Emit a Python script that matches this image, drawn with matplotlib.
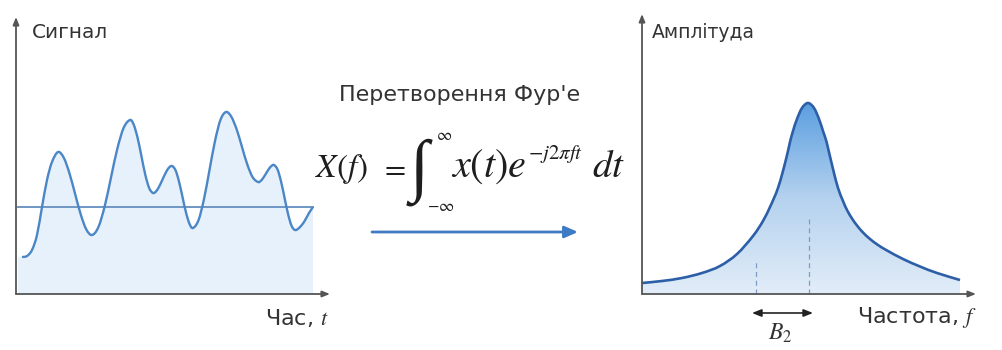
import numpy as np
import matplotlib
matplotlib.use("Agg")
import matplotlib.pyplot as plt
from matplotlib.colors import LinearSegmentedColormap
from matplotlib.path import Path
from matplotlib.patches import PathPatch

plt.rcParams['font.family'] = ['DejaVu Sans']
plt.rcParams['mathtext.fontset'] = 'stix'

# ---------------- data ----------------
# time-domain signal (arbitrary units)
signal_t = [6, 11, 16, 21, 26, 31, 36, 42,
            47.7, 53.3, 59, 64.7, 70.3, 76,
            82.3, 88.7, 95, 101.3, 107.7, 114,
            117.8, 121.7, 125.5, 129.3, 133.2, 137,
            140.2, 143.3, 146.5, 149.7, 152.8, 156,
            159.5, 163, 166.5, 170, 173.5, 177,
            182.5, 188, 193.5, 199, 204.5, 210,
            215.3, 220.7, 226, 231.3, 236.7, 242,
            244.7, 247.3, 250, 252.7, 255.3, 258,
            261.5, 265, 268.5, 272, 275.5, 279,
            283, 288, 293, 297]
signal_v = [37, 38, 44, 59, 87, 114, 132, 142,
            136.4, 121.2, 100.5, 79.7, 64.6, 59,
            66.7, 87.7, 116.5, 145.2, 166.3, 174,
            169.1, 155.7, 137.5, 119.2, 105.9, 101,
            102.8, 107.7, 114.5, 121.2, 126.2, 128,
            123.8, 112.5, 97, 81.5, 70.2, 66,
            73.8, 95, 124, 153, 174.2, 182,
            177.3, 164.5, 147, 129.5, 116.7, 112,
            113.1, 116.2, 120.5, 124.8, 127.9, 129,
            124.6, 112.7, 96.5, 80.2, 68.4, 64,
            66, 72, 81, 87]
signal_mean = 87
signal_span = [2, 297]

# spectrum (arbitrary units)
spec_f = [0, 20, 40, 60, 78, 95, 111, 121, 128, 132, 136, 141, 146, 148, 151,
          155, 160, 166, 172, 177, 181, 184, 186, 191, 196, 201, 205,
          210, 215, 221, 228, 236, 245, 261, 278, 295, 318]
spec_a = [11, 13, 16, 21, 28, 40, 58, 73, 87, 96, 106, 123, 143, 152, 163,
          175, 186, 191, 186, 175, 163, 154, 146, 125, 106, 93, 84,
          75.5, 68.5, 61.5, 55, 49, 43.5, 35, 27.5, 21, 14]
band_f = [114, 167]         # bandwidth B2 edges
band_marker_top = [34, 77]  # heights of dashed markers

W, H = 1003, 350
fig = plt.figure(figsize=(W / 100, H / 100), dpi=100)


def smooth_path(xs, ys, close_to=None):
    """Catmull-Rom curve through the given points, rendered as cubic Bezier path."""
    P = np.column_stack([xs, ys]).astype(float)
    n = len(P)
    verts = [P[0]]
    codes = [Path.MOVETO]
    for i in range(n - 1):
        p0 = P[i - 1] if i > 0 else P[i]
        p1, p2 = P[i], P[i + 1]
        p3 = P[i + 2] if i + 2 < n else P[i + 1]
        verts += [p1 + (p2 - p0) / 6, p2 - (p3 - p1) / 6, p2]
        codes += [Path.CURVE4] * 3
    if close_to is not None:
        verts += [[P[-1, 0], close_to], [P[0, 0], close_to], P[0]]
        codes += [Path.LINETO, Path.LINETO, Path.CLOSEPOLY]
    return Path(np.array(verts), codes)


def px_axes(x0, x1, ytop, ybot):
    return fig.add_axes([x0 / W, 1 - ybot / H, (x1 - x0) / W, (ybot - ytop) / H])


axis_col = '#555555'
text_col = '#333333'
arrow_kw = dict(arrowstyle='-|>,head_length=0.45,head_width=0.18', color=axis_col, lw=1.3,
                shrinkA=0, shrinkB=0)

# ---------------- left panel ----------------
axL = px_axes(16, 330, 17, 294)
axL.set_xlim(0, 314)
axL.set_ylim(0, 277)
axL.axis('off')
axL.add_patch(PathPatch(smooth_path(signal_t, signal_v, close_to=0), facecolor='#e7f1fb',
                        edgecolor='none', zorder=1))
axL.fill_between([signal_span[0], signal_t[0]], [signal_v[0]] * 2, 0, color='#e7f1fb', lw=0)
axL.plot(signal_span, [signal_mean] * 2, color='#6f97c4', lw=1.4, zorder=2)
axL.add_patch(PathPatch(smooth_path(signal_t, signal_v), facecolor='none',
                        edgecolor='#4b86c6', lw=1.7, zorder=3))
axL.annotate('', xy=(0, 1), xytext=(0, 0), xycoords='axes fraction', arrowprops=arrow_kw)
axL.annotate('', xy=(1, 0), xytext=(0, 0), xycoords='axes fraction', arrowprops=arrow_kw)

# ---------------- right panel ----------------
axR = px_axes(642, 976, 14, 294)
axR.set_xlim(0, 334)
axR.set_ylim(0, 280)
axR.axis('off')
fill_path = smooth_path(spec_f, spec_a, close_to=0)
cmap = LinearSegmentedColormap.from_list('g', ['#e2edf8', '#b5d2ef', '#5b9fe0'])
grad = np.linspace(0, 1, 256).reshape(-1, 1)
im = axR.imshow(grad, extent=[0, 334, 0, max(spec_a)], origin='lower', aspect='auto',
                cmap=cmap, zorder=1)
im.set_clip_path(fill_path, transform=axR.transData)
axR.add_patch(PathPatch(smooth_path(spec_f, spec_a), facecolor='none',
                        edgecolor='#2d5fa8', lw=1.9, zorder=3))
for f, top in zip(band_f, band_marker_top):
    axR.plot([f, f], [0, top], color='#7d9cc4', lw=0.9, ls=(0, (4, 3)), zorder=2)
axR.annotate('', xy=(0, 1), xytext=(0, 0), xycoords='axes fraction', arrowprops=arrow_kw)
axR.annotate('', xy=(1, 0), xytext=(0, 0), xycoords='axes fraction', arrowprops=arrow_kw)
axR.annotate('', xy=(band_f[0] - 4, -19), xytext=(band_f[1] + 4, -19), xycoords='data',
             annotation_clip=False,
             arrowprops=dict(arrowstyle='<|-|>,head_length=0.55,head_width=0.22',
                             color='#222222', lw=1.2, shrinkA=0, shrinkB=0))
axR.text(sum(band_f) / 2 - 2, -39, r'$B_2$', fontsize=17, ha='center', va='center',
         color=text_col, clip_on=False)


# ---------------- labels / middle ----------------
def ftext(x, y, s, **kw):
    fig.text(x / W, 1 - y / H, s, **kw)


ftext(32, 32, 'Сигнал', fontsize=14.5, color=text_col, ha='left', va='center')
ftext(652, 33, 'Амплітуда', fontsize=13.5, color=text_col, ha='left', va='center')
ftext(265, 318, 'Час, $t$', fontsize=16, color=text_col, ha='left', va='center')
ftext(857, 318, 'Частота, $f$', fontsize=16, color=text_col, ha='left', va='center')
ftext(460, 95, "Перетворення Фур'е", fontsize=16, color=text_col, ha='center', va='center')

fcol = '#1e1e1e'
ftext(315, 177, r'$X(f)$', fontsize=24, color=fcol, ha='left', va='baseline')
ftext(380, 177, r'$=$', fontsize=22, color=fcol, ha='left', va='baseline')
ftext(419, 172, '∫', fontsize=50, color=fcol, ha='center', va='center',
      fontfamily=['Liberation Serif', 'DejaVu Serif'])
ftext(444, 135, r'$\infty$', fontsize=12, color=fcol, ha='center', va='center')
ftext(441, 206, r'$-\infty$', fontsize=12, color=fcol, ha='center', va='center')
ftext(451, 177, r'$x(t)e$', fontsize=29, color=fcol, ha='left', va='baseline')
ftext(528, 159, r'$-j2\pi ft$', fontsize=15, color=fcol, ha='left', va='baseline')
ftext(592, 177, r'$dt$', fontsize=28, color=fcol, ha='left', va='baseline')

axM = fig.add_axes([0, 0, 1, 1], facecolor='none')
axM.set_xlim(0, W)
axM.set_ylim(H, 0)
axM.axis('off')
axM.annotate('', xy=(578, 232), xytext=(372, 232),
             arrowprops=dict(arrowstyle='-|>,head_length=0.8,head_width=0.35', color='#3f7bc2',
                             lw=2.0, shrinkA=0, shrinkB=0))

fig.savefig('out.png', dpi=100, facecolor='white')
